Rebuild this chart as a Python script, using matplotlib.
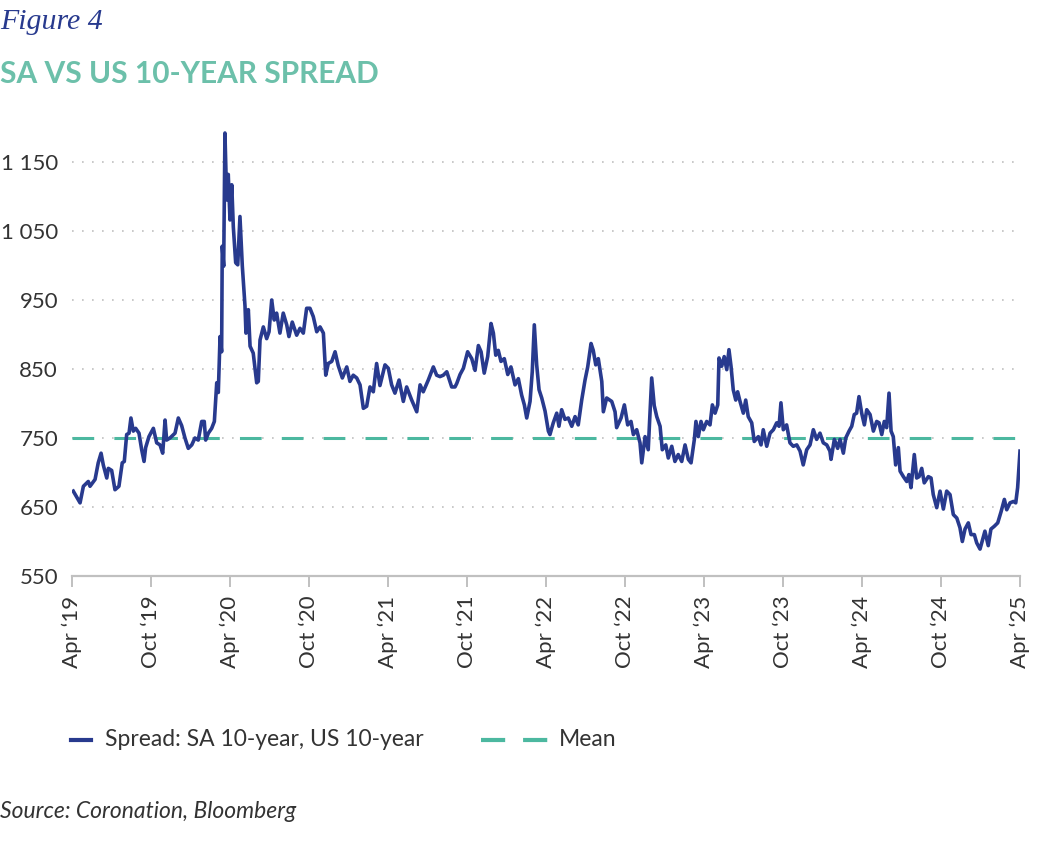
import matplotlib
matplotlib.use("Agg")
import matplotlib.pyplot as plt
from matplotlib.lines import Line2D

# ---------------- data ----------------
years = [
    2019.258, 2019.301, 2019.322, 2019.353, 2019.364, 2019.396, 2019.416, 2019.434, 2019.448, 2019.470,
    2019.480, 2019.501, 2019.522, 2019.547, 2019.568, 2019.581, 2019.596, 2019.611, 2019.623, 2019.638,
    2019.653, 2019.674, 2019.691, 2019.706, 2019.716, 2019.737, 2019.765, 2019.786, 2019.807, 2019.824,
    2019.839, 2019.849, 2019.870, 2019.902, 2019.923, 2019.944, 2019.965, 2019.986, 2020.008, 2020.028,
    2020.049, 2020.071, 2020.087, 2020.096, 2020.113, 2020.134, 2020.151, 2020.166, 2020.176, 2020.187,
    2020.197, 2020.201, 2020.210, 2020.218, 2020.229, 2020.239, 2020.250, 2020.261, 2020.271, 2020.286,
    2020.299, 2020.313, 2020.328, 2020.345, 2020.351, 2020.366, 2020.377, 2020.397, 2020.419, 2020.429,
    2020.440, 2020.461, 2020.482, 2020.497, 2020.514, 2020.530, 2020.545, 2020.566, 2020.587, 2020.609,
    2020.623, 2020.644, 2020.672, 2020.693, 2020.714, 2020.735, 2020.756, 2020.777, 2020.799, 2020.820,
    2020.841, 2020.856, 2020.872, 2020.894, 2020.915, 2020.935, 2020.961, 2020.989, 2021.009, 2021.030,
    2021.052, 2021.073, 2021.094, 2021.115, 2021.136, 2021.157, 2021.178, 2021.199, 2021.231, 2021.252,
    2021.273, 2021.294, 2021.320, 2021.347, 2021.368, 2021.400, 2021.432, 2021.453, 2021.473, 2021.505,
    2021.537, 2021.558, 2021.579, 2021.600, 2021.622, 2021.653, 2021.674, 2021.685, 2021.706, 2021.727,
    2021.754, 2021.780, 2021.801, 2021.822, 2021.839, 2021.859, 2021.881, 2021.902, 2021.917, 2021.932,
    2021.948, 2021.965, 2021.986, 2022.008, 2022.028, 2022.054, 2022.075, 2022.096, 2022.113, 2022.128,
    2022.149, 2022.163, 2022.176, 2022.191, 2022.206, 2022.223, 2022.244, 2022.265, 2022.275, 2022.296,
    2022.318, 2022.332, 2022.349, 2022.370, 2022.391, 2022.413, 2022.434, 2022.454, 2022.476, 2022.497,
    2022.514, 2022.535, 2022.549, 2022.565, 2022.581, 2022.603, 2022.613, 2022.634, 2022.666, 2022.687,
    2022.697, 2022.725, 2022.746, 2022.767, 2022.788, 2022.803, 2022.824, 2022.845, 2022.856, 2022.877,
    2022.897, 2022.919, 2022.935, 2022.951, 2022.972, 2022.986, 2023.008, 2023.024, 2023.046, 2023.066,
    2023.087, 2023.109, 2023.130, 2023.151, 2023.168, 2023.189, 2023.199, 2023.214, 2023.231, 2023.246,
    2023.267, 2023.288, 2023.303, 2023.320, 2023.337, 2023.345, 2023.362, 2023.378, 2023.394, 2023.408,
    2023.421, 2023.435, 2023.451, 2023.463, 2023.478, 2023.499, 2023.514, 2023.530, 2023.552, 2023.568,
    2023.594, 2023.611, 2023.625, 2023.647, 2023.668, 2023.689, 2023.710, 2023.725, 2023.737, 2023.752,
    2023.773, 2023.794, 2023.815, 2023.837, 2023.858, 2023.878, 2023.900, 2023.921, 2023.942, 2023.963,
    2023.984, 2024.005, 2024.027, 2024.047, 2024.054, 2024.075, 2024.096, 2024.111, 2024.132, 2024.147,
    2024.168, 2024.185, 2024.201, 2024.216, 2024.231, 2024.248, 2024.265, 2024.280, 2024.301, 2024.322,
    2024.343, 2024.358, 2024.375, 2024.391, 2024.406, 2024.421, 2024.434, 2024.448, 2024.463, 2024.480,
    2024.491, 2024.512, 2024.533, 2024.547, 2024.560, 2024.581, 2024.596, 2024.611, 2024.628, 2024.644,
    2024.670, 2024.687, 2024.701, 2024.723, 2024.744, 2024.765, 2024.786, 2024.807, 2024.828, 2024.850,
    2024.870, 2024.885, 2024.902, 2024.923, 2024.940, 2024.961, 2024.976, 2024.997, 2025.011, 2025.028,
    2025.049, 2025.066, 2025.087, 2025.109, 2025.130, 2025.151, 2025.166, 2025.187, 2025.208, 2025.223,
    2025.235, 2025.250,
]
spread = [
    673, 656, 680, 687, 680, 690, 714, 728, 711, 692,
    706, 703, 675, 680, 714, 716, 755, 757, 779, 760,
    764, 757, 733, 716, 736, 752, 764, 743, 740, 728,
    776, 747, 750, 757, 779, 768, 750, 735, 740, 750,
    747, 774, 774, 747, 757, 764, 774, 830, 816, 897,
    875, 1028, 999, 1192, 1095, 1132, 1066, 1117, 1056, 1004,
    1001, 1071, 999, 941, 902, 936, 883, 873, 830, 832,
    892, 911, 894, 904, 950, 921, 931, 902, 931, 914,
    897, 918, 899, 909, 902, 938, 938, 926, 904, 911,
    902, 841, 858, 861, 875, 855, 837, 853, 832, 841,
    837, 827, 793, 796, 824, 817, 858, 826, 856, 851,
    827, 815, 834, 803, 824, 805, 788, 827, 817, 834,
    853, 841, 839, 841, 846, 824, 824, 829, 842, 851,
    875, 865, 848, 884, 875, 844, 868, 916, 902, 870,
    877, 861, 865, 842, 853, 827, 836, 812, 798, 779,
    803, 846, 914, 856, 820, 808, 789, 760, 755, 772,
    786, 767, 791, 777, 779, 767, 781, 769, 805, 834,
    853, 887, 877, 856, 865, 832, 788, 808, 803, 788,
    765, 779, 798, 769, 774, 755, 762, 743, 714, 752,
    733, 837, 797, 781, 767, 733, 740, 721, 738, 716,
    726, 716, 740, 719, 714, 748, 774, 752, 774, 762,
    774, 769, 798, 786, 798, 866, 854, 868, 849, 878,
    854, 820, 805, 817, 803, 786, 805, 781, 772, 745,
    752, 740, 762, 738, 757, 762, 772, 767, 801, 762,
    769, 743, 738, 740, 731, 711, 733, 740, 762, 748,
    757, 743, 740, 731, 719, 748, 735, 748, 728, 750,
    760, 767, 784, 786, 810, 786, 769, 791, 784, 760,
    774, 772, 755, 774, 765, 815, 760, 752, 711, 736,
    702, 694, 687, 697, 678, 726, 692, 694, 706, 685,
    694, 692, 668, 649, 673, 647, 673, 668, 639, 634,
    620, 600, 618, 627, 610, 610, 598, 589, 601, 615,
    594, 618, 622, 627, 643, 661, 646, 656, 658, 656,
    678, 731,
]
mean_value = 750
series_label = "Spread: SA 10-year, US 10-year"
mean_label = "Mean"
tick_years = [2019.25 + 0.5 * i for i in range(13)]
tick_labels = ["Apr \u201819", "Oct \u201819", "Apr \u201820", "Oct \u201820", "Apr \u201821",
               "Oct \u201821", "Apr \u201822", "Oct \u201822", "Apr \u201823", "Oct \u201823",
               "Apr \u201824", "Oct \u201824", "Apr \u201825"]
y_ticks = [550, 650, 750, 850, 950, 1050, 1150]
y_tick_labels = ["550", "650", "750", "850", "950", "1 050", "1 150"]

# ---------------- style ----------------
NAVY = "#283a8e"
TEAL_LINE = "#4cb8a0"
TEAL_TITLE = "#6cc0aa"
GREY = "#c0c0c0"
TEXT = "#333333"
FONT = ["Lato", "DejaVu Sans"]

plt.rcParams["font.family"] = FONT

W, H = 1061, 859
fig = plt.figure(figsize=(W / 100, H / 100), dpi=100)
fig.patch.set_facecolor("white")

ax = fig.add_axes([72 / W, 1 - 576 / H, (1020 - 72) / W, (576 - 120.6) / H])
ax.set_xlim(2019.25, 2025.25)
ax.set_ylim(550, 1210)

ax.plot(years, spread, color=NAVY, lw=2.6, solid_joinstyle="round", zorder=3)
ax.axhline(mean_value, color=TEAL_LINE, lw=2.2, dashes=(7.1, 6.6), zorder=2)

ax.set_yticks(y_ticks, labels=y_tick_labels)
ax.tick_params(axis="y", length=0, pad=10, labelsize=16, labelcolor=TEXT)
ax.set_xticks(tick_years, labels=tick_labels, rotation=90)
ax.tick_params(axis="x", length=8, width=1.4, color=GREY, pad=6, labelsize=16, labelcolor=TEXT)

ax.grid(axis="y", color=GREY, lw=1.2, linestyle=(0, (1, 5)), zorder=1)
for s in ("left", "right", "top"):
    ax.spines[s].set_visible(False)
ax.spines["bottom"].set_color(GREY)
ax.spines["bottom"].set_linewidth(1.6)
ax.spines["bottom"].set_zorder(4)

# ---------------- titles ----------------
fig.text(0 / W, 1 - 29 / H, "Figure 4", family=["Liberation Serif", "DejaVu Serif"],
         style="italic", fontsize=21.5, color=NAVY, va="baseline", ha="left")
fig.text(0 / W, 1 - 83 / H, "SA VS US 10-YEAR SPREAD", family=FONT, weight="bold",
         fontsize=21.5, color=TEAL_TITLE, va="baseline", ha="left")

# ---------------- legend ----------------
ly = 1 - 740 / H
fig.add_artist(Line2D([71 / W, 91 / W], [ly, ly], color=NAVY, lw=3.0, transform=fig.transFigure))
fig.text(105 / W, ly, series_label, fontsize=16.5, color=TEXT, va="center", ha="left")
fig.add_artist(Line2D([481 / W, 548 / W], [ly, ly], color=TEAL_LINE, lw=3.0,
                      dashes=(5.8, 4.3), transform=fig.transFigure))
fig.text(559 / W, ly, mean_label, fontsize=16.5, color=TEXT, va="center", ha="left")

# ---------------- source ----------------
fig.text(0 / W, 1 - 818 / H, "Source: Coronation, Bloomberg", fontsize=16.5, style="italic",
         color=TEXT, va="baseline", ha="left")

fig.savefig("out.png", dpi=100, facecolor="white")
